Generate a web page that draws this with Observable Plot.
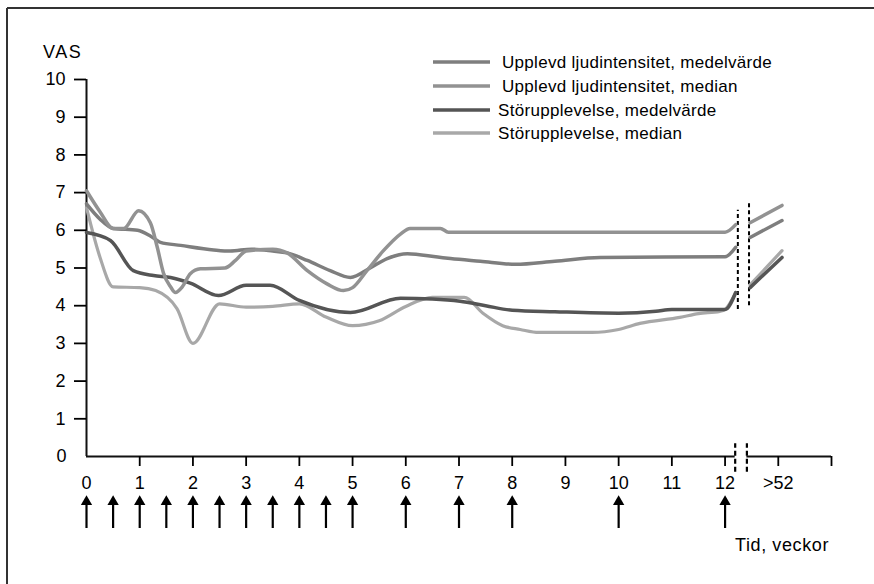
<!DOCTYPE html>
<html><head><meta charset="utf-8">
<script src="https://cdn.jsdelivr.net/npm/d3@7"></script>
<script src="https://cdn.jsdelivr.net/npm/@observablehq/plot@0.6"></script>
<style>body{margin:0;background:#fff} svg{display:block}</style>
</head><body><div id="chart"></div>
<script>
// ---- data ----
const seriesNames = ["Upplevd ljudintensitet, medelvärde", "Upplevd ljudintensitet, median", "Störupplevelse, medelvärde", "Störupplevelse, median"];

// Upplevd ljudintensitet, medelvärde
const weeksUMean = [0, 0.25, 0.5, 0.96, 1.2, 1.39, 1.77, 2.39, 2.7, 3.1, 3.5, 3.77, 4.15, 4.58, 4.96, 5.33, 5.65, 6.03, 6.6, 6.84, 7.4, 8.06, 8.8, 9.65, 12.0, 12.2];
const valsUMean  = [6.7, 6.3, 6.05, 6.0, 5.85, 5.68, 5.6, 5.48, 5.45, 5.5, 5.45, 5.4, 5.2, 4.93, 4.75, 5.0, 5.25, 5.38, 5.29, 5.25, 5.18, 5.1, 5.18, 5.28, 5.3, 5.55];
// Upplevd ljudintensitet, median
const weeksUMed = [0, 0.25, 0.5, 0.7, 0.98, 1.2, 1.33, 1.45, 1.58, 1.67, 1.8, 1.95, 2.14, 2.6, 2.8, 3.0, 3.5, 3.77, 4.15, 4.52, 4.83, 5.0, 5.27, 5.58, 5.9, 6.08, 6.65, 6.8, 12.0, 12.2];
const valsUMed  = [7.05, 6.5, 6.05, 6.05, 6.52, 6.2, 5.55, 4.85, 4.5, 4.35, 4.5, 4.85, 4.98, 5.0, 5.2, 5.45, 5.5, 5.4, 4.93, 4.58, 4.4, 4.48, 4.93, 5.46, 5.9, 6.05, 6.05, 5.95, 5.95, 6.15];
// Störupplevelse, medelvärde
const weeksSMean = [0, 0.45, 0.88, 1.26, 1.58, 1.95, 2.48, 3.0, 3.45, 4.0, 4.96, 5.9, 6.5, 7.02, 7.5, 8.0, 8.8, 10.0, 10.7, 11.0, 12.0, 12.2];
const valsSMean  = [5.94, 5.73, 4.93, 4.8, 4.75, 4.6, 4.27, 4.54, 4.54, 4.14, 3.82, 4.2, 4.18, 4.12, 4.0, 3.88, 3.84, 3.8, 3.85, 3.9, 3.9, 4.35];
// Störupplevelse, median
const weeksSMed = [0, 0.25, 0.5, 1.0, 1.3, 1.7, 2.0, 2.5, 3.0, 3.5, 4.0, 4.5, 5.0, 5.5, 6.0, 6.5, 7.1, 7.45, 7.82, 8.15, 8.5, 9.5, 10.0, 10.4, 11.15, 11.5, 11.9, 12.0, 12.2];
const valsSMed  = [6.6, 5.3, 4.5, 4.48, 4.4, 3.92, 3.0, 4.05, 3.96, 3.98, 4.05, 3.7, 3.47, 3.6, 3.98, 4.22, 4.22, 3.8, 3.47, 3.37, 3.29, 3.29, 3.37, 3.53, 3.69, 3.79, 3.85, 3.9, 4.35];

// after the axis break (>52 weeks)
const weeksAfter = [12.47, 13.07];
const afterUMean = [5.81, 6.26];
const afterUMed  = [6.2, 6.66];
const afterSMean = [4.48, 5.28];
const afterSMed  = [4.55, 5.46];

const yTicks = [1, 2, 3, 4, 5, 6, 7, 8, 9, 10];
const xTicks = [1, 2, 3, 4, 5, 6, 7, 8, 9, 10, 11, 12, 13, 14];
const xTickLabels = ["1", "2", "3", "4", "5", "6", "7", "8", "9", "10", "11", "12", ">52", ""];
const arrowWeeks = [0, 0.5, 1, 1.5, 2, 2.5, 3, 3.5, 4, 4.5, 5, 6, 7, 8, 10, 12];
const axisBreakWeeks = [12.19, 12.41];
const plotBreaks = [{w: 12.24, lo: 3.9, hi: 6.53}, {w: 12.45, lo: 4.0, hi: 6.74}];

// ---- build ----
const colors = ["#7e7e7e", "#929292", "#555555", "#a8a8a8"];
const widths = [3.5, 3.5, 3.5, 3.2];
function rows(weeks, vals, after, afterVals) {
  return weeks.map((w, i) => ({week: w, value: vals[i], seg: 0}))
    .concat(after.map((w, i) => ({week: w, value: afterVals[i], seg: 1})));
}
const data = [
  rows(weeksUMean, valsUMean, weeksAfter, afterUMean),
  rows(weeksUMed, valsUMed, weeksAfter, afterUMed),
  rows(weeksSMean, valsSMean, weeksAfter, afterSMean),
  rows(weeksSMed, valsSMed, weeksAfter, afterSMed)
];
const drawOrder = [3, 2, 0, 1];

const plot = Plot.plot({
  width: 874, height: 584,
  marginLeft: 86, marginRight: 43, marginTop: 79, marginBottom: 128,
  style: {fontFamily: "Liberation Sans, Arial, sans-serif", fontSize: "18px", background: "#fff", color: "#000"},
  x: {domain: [0, 14]},
  y: {domain: [0, 10]},
  marks: [
    Plot.ruleX([0], {y1: () => 0, y2: () => 10, stroke: "#111", strokeWidth: 2}),
    Plot.ruleY([0], {x1: () => 0, x2: () => axisBreakWeeks[0], stroke: "#111", strokeWidth: 2}),
    Plot.ruleY([0], {x1: () => axisBreakWeeks[1], x2: () => 14, stroke: "#111", strokeWidth: 2}),
    Plot.axisY({ticks: yTicks, tickSize: 12, tickPadding: 9, label: null, strokeWidth: 1.8, fontSize: 18}),
    Plot.axisY({ticks: [0], tickSize: 0, tickPadding: 20, label: null, fontSize: 18}),
    Plot.axisX({ticks: xTicks, tickFormat: d => xTickLabels[xTicks.indexOf(d)], tickSize: 10, tickPadding: 10, label: null, strokeWidth: 1.8, fontSize: 18}),
    Plot.axisX({ticks: [0], tickSize: 0, tickPadding: 20, label: null, fontSize: 18}),
    Plot.ruleX(axisBreakWeeks, {y1: () => -0.42, y2: () => 0.34, stroke: "#000", strokeWidth: 2.2, strokeDasharray: "5,3"}),
    Plot.ruleX(plotBreaks, {x: "w", y1: "lo", y2: "hi", stroke: "#000", strokeWidth: 2, strokeDasharray: "4,3"}),
    ...drawOrder.map(i => Plot.line(data[i], {x: "week", y: "value", z: "seg", stroke: colors[i], strokeWidth: widths[i], curve: "monotone-x"})),
    Plot.ruleX(arrowWeeks, {y1: () => -1.91, y2: () => -1.3, stroke: "#000", strokeWidth: 2.2}),
    Plot.dot(arrowWeeks, {x: d => d, y: () => -1.2, symbol: "triangle", r: 4.2, fill: "#000", stroke: "none"})
  ]
});

const svg = d3.select(plot);
// frame (top and left edges)
svg.append("line").attr("x1", 7).attr("y1", 8).attr("x2", 874).attr("y2", 8).attr("stroke", "#333").attr("stroke-width", 2);
svg.append("line").attr("x1", 7).attr("y1", 8).attr("x2", 7).attr("y2", 584).attr("stroke", "#333").attr("stroke-width", 2);
// VAS label
svg.append("text").attr("x", 43).attr("y", 58).attr("text-anchor", "start").attr("font-size", 18).attr("letter-spacing", "1.5px").attr("fill", "#000").text("VAS");
// x-axis label
svg.append("text").attr("x", 829).attr("y", 551).attr("text-anchor", "end").attr("font-size", 18).attr("letter-spacing", "0.6px").attr("fill", "#000").text("Tid, veckor");
// legend
const legY = [62, 86, 110, 133];
const legTextX = [502, 502, 498, 498];
const lg = svg.append("g").attr("text-anchor", "start");
seriesNames.forEach((name, i) => {
  lg.append("line").attr("x1", 433).attr("x2", 490).attr("y1", legY[i]).attr("y2", legY[i]).attr("stroke", colors[i]).attr("stroke-width", 3.5);
  lg.append("text").attr("x", legTextX[i]).attr("y", legY[i] + 6).attr("text-anchor", "start").attr("font-size", 17).attr("letter-spacing", "0.3px").attr("fill", "#000").text(name);
});

document.getElementById("chart").appendChild(plot);
</script>
</body></html>
